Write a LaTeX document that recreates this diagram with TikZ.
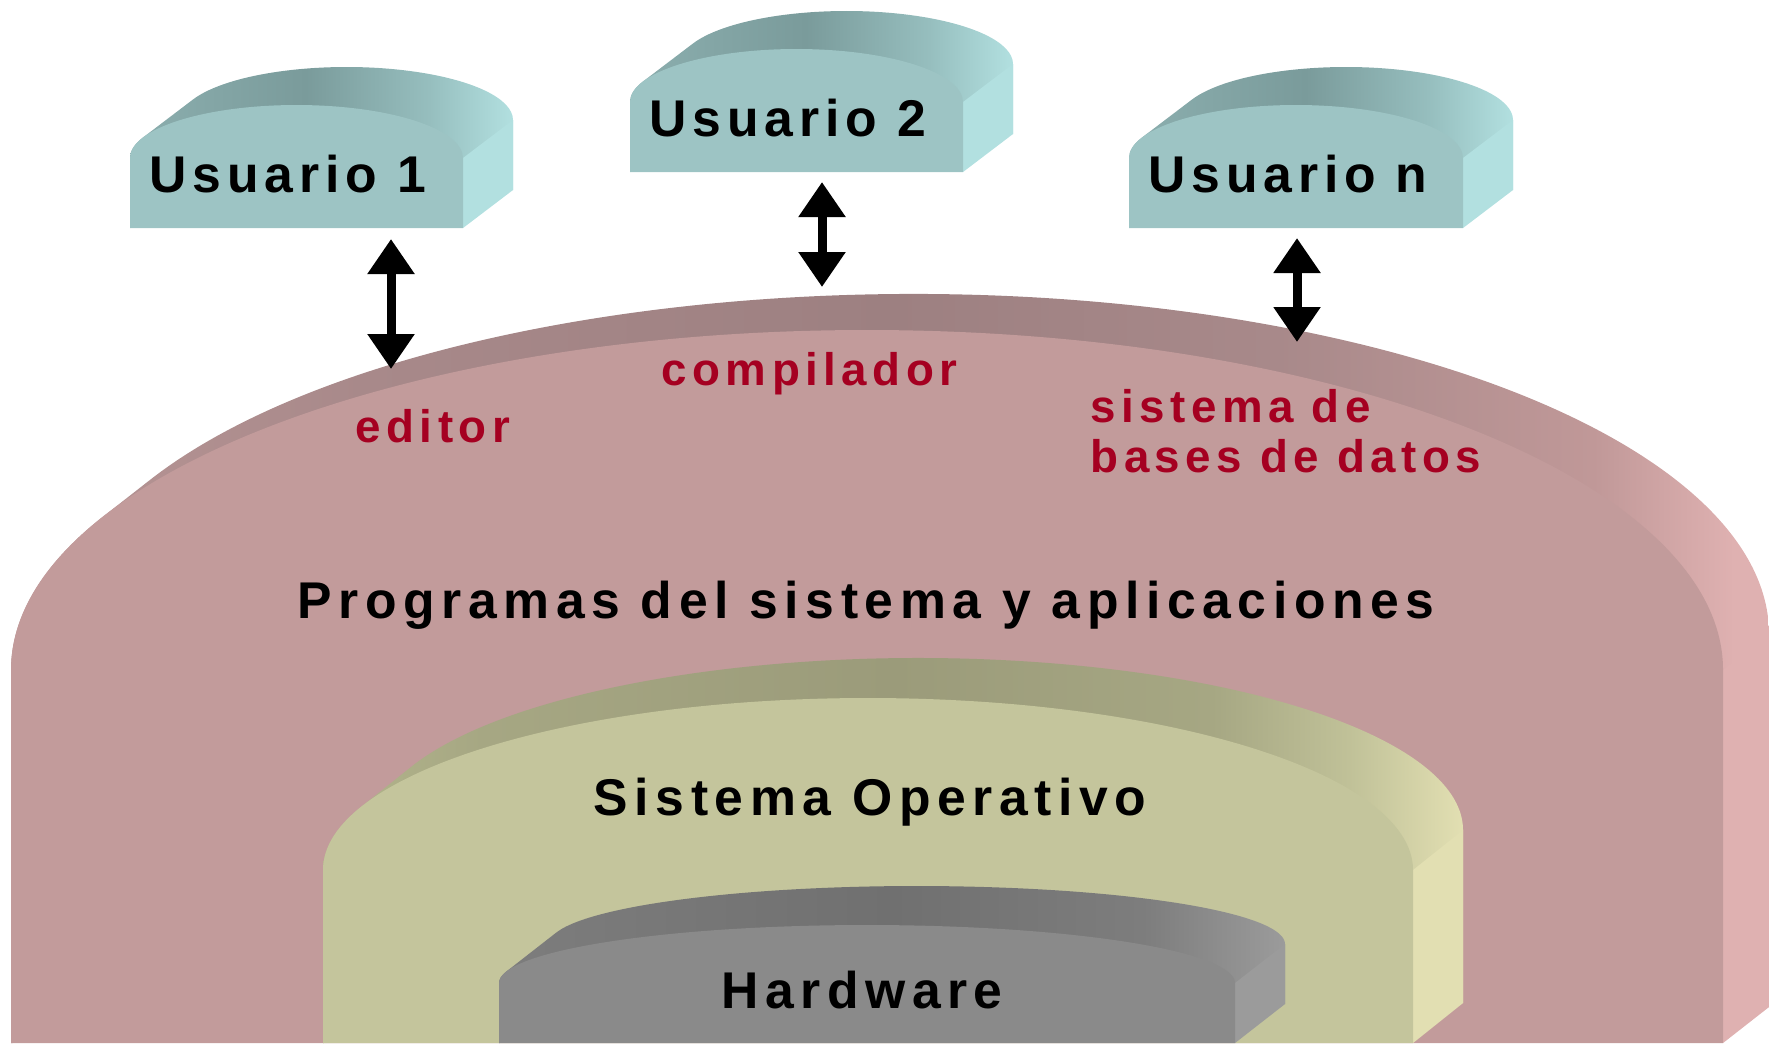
\documentclass[tikz,border=0pt]{standalone}
\usepackage{fontspec}
\setmainfont{Liberation Sans}
\newfontfamily\userfont[LetterSpace=11.3]{Liberation Sans}
\newfontfamily\layerfont[LetterSpace=12.7]{Liberation Sans}
\newfontfamily\progfont[LetterSpace=12]{Liberation Sans}
\usetikzlibrary{arrows.meta}

% colours of the slabs
\definecolor{pkfront}{RGB}{194,155,155}
\definecolor{pkside}{RGB}{223,177,177}
\definecolor{pkA}{RGB}{185,150,150}
\definecolor{pkB}{RGB}{168,137,138}
\definecolor{pkC}{RGB}{157,128,129}
\definecolor{pkD}{RGB}{192,152,152}
\definecolor{gnfront}{RGB}{196,197,156}
\definecolor{gnside}{RGB}{226,223,178}
\definecolor{gnA}{RGB}{180,182,140}
\definecolor{gnB}{RGB}{166,167,131}
\definecolor{gnC}{RGB}{155,155,122}
\definecolor{gnD}{RGB}{192,193,152}
\definecolor{gyfront}{RGB}{138,138,138}
\definecolor{gyside}{RGB}{155,155,155}
\definecolor{gyA}{RGB}{125,125,125}
\definecolor{gyC}{RGB}{112,112,112}
\definecolor{tlfront}{RGB}{157,196,196}
\definecolor{tlside}{RGB}{178,224,224}
\definecolor{tlA}{RGB}{140,175,175}
\definecolor{tlC}{RGB}{122,155,155}
\definecolor{tlD}{RGB}{150,190,190}
\definecolor{progred}{RGB}{165,0,33}

\pgfdeclarehorizontalshading{pkband}{100bp}{color(0bp)=(pkA); color(25bp)=(pkA); color(35bp)=(pkB); color(50bp)=(pkC); color(61bp)=(pkB); color(70bp)=(pkD); color(74bp)=(pkside); color(100bp)=(pkside)}
\pgfdeclarehorizontalshading{gnband}{100bp}{color(0bp)=(gnA); color(25bp)=(gnA); color(32bp)=(gnB); color(50bp)=(gnC); color(64bp)=(gnB); color(70bp)=(gnD); color(75bp)=(gnside); color(100bp)=(gnside)}
\pgfdeclarehorizontalshading{gyband}{100bp}{color(0bp)=(gyA); color(25bp)=(gyA); color(50bp)=(gyC); color(66bp)=(gyA); color(75bp)=(gyside); color(100bp)=(gyside)}
\pgfdeclarehorizontalshading{tlband}{100bp}{color(0bp)=(tlA); color(25bp)=(tlA); color(48bp)=(tlC); color(64bp)=(tlD); color(75bp)=(tlside); color(100bp)=(tlside)}

% #1 centre x, #2 y where the arch starts, #3 half width, #4 arch height,
% #5 bottom y, #6/#7 depth shift, #8 colour prefix
\newcommand{\slab}[8]{%
  \pgfmathsetmacro\slabturn{180+atan2((#6)*0.01*(#4),-(#7)*0.01*(#3))}%
  \shade[shading=#8band] (#1-#3,#5) -- (#1-#3,#2)
    arc[start angle=180, end angle=\slabturn, x radius=#3, y radius=#4]
    -- ++(#6,#7)
    arc[start angle=\slabturn, end angle=360, x radius=#3, y radius=#4]
    -- ({#1+#3+(#6)},{#5+(#7)}) -- cycle;
  \fill[#8side] (#1+#3,#2) -- ++(#6,#7) -- ({#1+#3+(#6)},{#5+(#7)})
    -- (#1+#3,#5) -- cycle;
  \fill[#8front] (#1-#3,#5) -- (#1-#3,#2)
    arc[start angle=180, end angle=360, x radius=#3, y radius=#4]
    -- (#1+#3,#5) -- cycle;
}

\tikzset{userlbl/.style={font=\userfont\bfseries\fontsize{14.7}{17}\selectfont, anchor=base, inner sep=0pt},
  layerlbl/.style={font=\layerfont\bfseries\fontsize{14.7}{17}\selectfont, anchor=base, inner sep=0pt},
  proglbl/.style={font=\progfont\bfseries\fontsize{13}{14.2}\selectfont, text=progred, anchor=base west, inner sep=0pt, align=left},
  biarrow/.style={{Triangle[width=4.5mm,length=3.5mm]}-{Triangle[width=4.5mm,length=3.5mm]}, line width=0.9mm}}

\begin{document}
\begin{tikzpicture}[x=0.1mm, y=-0.1mm]
    \useasboundingbox (0,0) rectangle (1769,1043);

    % layers
    \slab{867}{670}{856}{340}{1043}{46}{-36}{pk}
    \slab{868}{870}{545}{172}{1043}{50}{-40}{gn}
    \slab{867}{983}{368}{58}{1043}{50}{-39}{gy}

    % users
    \slab{296.5}{158}{166.5}{53}{228}{50}{-38}{tl}
    \slab{796.5}{102}{166.5}{53}{172}{50}{-38}{tl}
    \slab{1296}{158}{167}{53}{228}{50}{-38}{tl}

    \node[userlbl]  (u1)   at (288,192)   {Usuario 1};
    \node[userlbl]  (u2)   at (788,136)   {Usuario 2};
    \node[userlbl]  (un)   at (1288,192)  {Usuario n};

    \node[proglbl]  (ed)   at (355,442)   {editor};
    \node[proglbl]  (cp)   at (661,385)   {compilador};
    \node[proglbl]  (db)   at (1090,472)  {sistema de\\bases de datos};

    \node[layerlbl] (prog) at (866,618)   {Programas del sistema y aplicaciones};
    \node[layerlbl] (so)   at (870,815)   {Sistema Operativo};
    \node[layerlbl] (hw)   at (862,1008)  {Hardware};

    \coordinate (u1-port) at (391,239);
    \coordinate (ed-port) at (391,369);
    \coordinate (u2-port) at (822,182);
    \coordinate (cp-port) at (822,287);
    \coordinate (un-port) at (1297,238);
    \coordinate (db-port) at (1297,342);

    \draw[biarrow]  (u1-port) -- (ed-port);
    \draw[biarrow]  (u2-port) -- (cp-port);
    \draw[biarrow]  (un-port) -- (db-port);
\end{tikzpicture}
\end{document}
